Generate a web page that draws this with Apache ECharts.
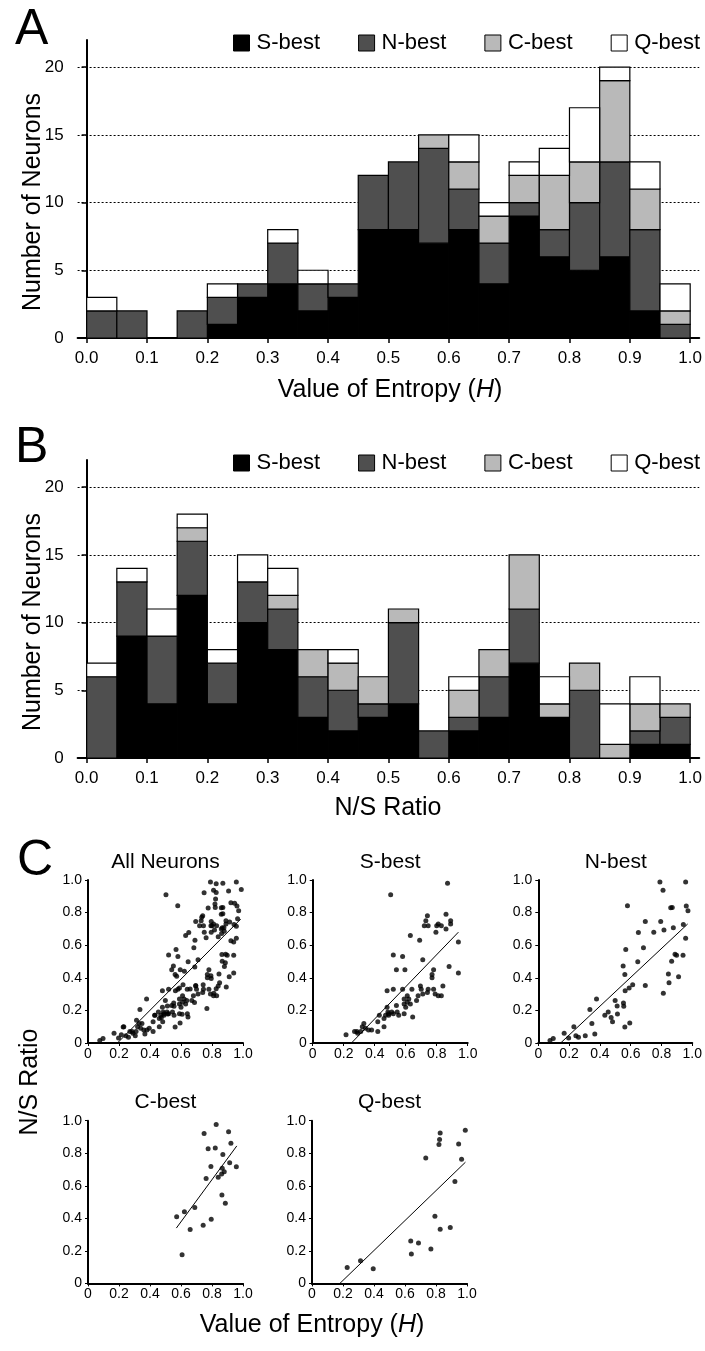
<!DOCTYPE html>
<html><head><meta charset="utf-8">
<script src="https://cdn.jsdelivr.net/npm/echarts@6/dist/echarts.min.js"></script>
<style>html,body{margin:0;padding:0;background:#fff}#c{width:705px;height:1351px}</style>
</head><body><div id="c"></div>
<script>
// ---------- DATA ----------
const binEdges = [0.00,0.05,0.10,0.15,0.20,0.25,0.30,0.35,0.40,0.45,0.50,0.55,0.60,0.65,0.70,0.75,0.80,0.85,0.90,0.95,1.00];
const groupNames = ['S-best','N-best','C-best','Q-best'];
// Panel A: entropy histogram counts per bin
const entropyS = [0,0,0,0,1,3,4,2,3,8,8,7,8,4,9,6,5,6,2,0];
const entropyN = [2,2,0,2,2,1,3,2,1,4,5,7,3,3,1,2,5,7,6,1];
const entropyC = [0,0,0,0,0,0,0,0,0,0,0,1,2,2,2,4,3,6,3,1];
const entropyQ = [1,0,0,0,1,0,1,1,0,0,0,0,2,1,1,2,4,1,2,2];
// Panel B: N/S ratio histogram counts per bin
const ratioS = [0,9,4,12,4,10,8,3,2,3,4,0,2,3,7,3,0,0,1,1];
const ratioN = [6,4,5,4,3,3,3,3,3,1,6,2,1,3,4,0,5,0,1,2];
const ratioC = [0,0,0,1,0,0,1,2,2,2,1,0,2,2,4,1,2,1,2,1];
const ratioQ = [1,1,2,1,1,2,2,0,1,0,0,0,1,0,0,2,0,3,2,0];
// tick labels
const histXTicks = [0.0,0.1,0.2,0.3,0.4,0.5,0.6,0.7,0.8,0.9,1.0];
const histYTicks = [0,5,10,15,20];
const scatterTicks = [0,0.2,0.4,0.6,0.8,1.0];
// Panel C: [entropy H, N/S ratio]
const sBestPoints = [
[0.215,0.05],[0.27,0.07],[0.285,0.07],[0.29,0.06],[0.31,0.07],[0.32,0.10],[0.33,0.12],[0.34,0.09],[0.36,0.08],[0.38,0.08],
[0.42,0.07],[0.42,0.13],[0.43,0.17],[0.46,0.10],[0.46,0.15],[0.47,0.17],[0.48,0.22],[0.485,0.19],[0.48,0.32],[0.49,0.18],[0.49,0.17],
[0.503,0.91],[0.51,0.19],[0.52,0.18],[0.52,0.33],[0.52,0.54],[0.54,0.45],[0.54,0.23],[0.545,0.19],
[0.555,0.17],[0.58,0.53],[0.58,0.33],[0.59,0.18],[0.59,0.24],[0.595,0.45],[0.59,0.27],
[0.60,0.22],[0.61,0.25],[0.61,0.29],[0.62,0.27],[0.63,0.66],[0.63,0.24],[0.64,0.33],[0.645,0.16],
[0.67,0.26],[0.68,0.29],[0.69,0.63],[0.695,0.35],
[0.70,0.33],[0.71,0.51],[0.71,0.30],[0.72,0.72],[0.73,0.75],[0.74,0.78],[0.74,0.31],[0.745,0.72],[0.745,0.33],
[0.77,0.42],[0.77,0.40],[0.78,0.45],[0.78,0.33],[0.795,0.68],[0.79,0.30],
[0.80,0.72],[0.81,0.73],[0.81,0.29],[0.83,0.29],[0.83,0.72],[0.84,0.35],
[0.86,0.79],[0.86,0.70],[0.87,0.98],[0.88,0.47],[0.89,0.75],[0.89,0.73],
[0.94,0.43],[0.94,0.62]
];
const nBestPoints = [
[0.076,0.016],[0.097,0.027],[0.168,0.06],[0.197,0.03],[0.231,0.10],[0.244,0.045],[0.261,0.035],[0.305,0.045],
[0.335,0.205],[0.348,0.12],[0.367,0.055],[0.378,0.27],[0.432,0.17],[0.454,0.19],[0.473,0.156],[0.482,0.13],
[0.499,0.26],[0.512,0.227],[0.514,0.178],[0.551,0.473],[0.553,0.246],[0.555,0.225],[0.562,0.42],[0.562,0.098],
[0.568,0.574],[0.564,0.32],[0.579,0.842],[0.59,0.338],[0.594,0.123],[0.613,0.357],[0.646,0.498],[0.65,0.678],
[0.683,0.584],[0.695,0.352],[0.695,0.746],[0.75,0.68],[0.79,0.988],[0.795,0.746],[0.81,0.937],[0.812,0.305],
[0.816,0.693],[0.845,0.424],[0.849,0.369],[0.86,0.83],[0.87,0.832],[0.866,0.502],[0.877,0.707],[0.888,0.545],
[0.898,0.539],[0.911,0.406],[0.94,0.539],[0.942,0.727],[0.957,0.988],[0.957,0.643],[0.961,0.84],[0.972,0.811]
];
const cBestPoints = [
[0.572,0.41],[0.607,0.176],[0.622,0.44],[0.659,0.332],[0.689,0.467],[0.743,0.357],[0.749,0.922],[0.762,0.645],
[0.775,0.828],[0.793,0.719],[0.795,0.395],[0.821,0.832],[0.827,0.977],[0.840,0.652],[0.862,0.672],[0.864,0.543],
[0.870,0.793],[0.866,0.707],[0.879,0.686],[0.886,0.492],[0.907,0.932],[0.914,0.742],[0.922,0.861],[0.957,0.717]
];
const qBestPoints = [
[0.227,0.098],[0.313,0.139],[0.395,0.09],[0.637,0.261],[0.641,0.18],[0.687,0.249],[0.734,0.771],[0.767,0.212],
[0.793,0.412],[0.819,0.853],[0.823,0.884],[0.827,0.924],[0.827,0.333],[0.892,0.343],[0.922,0.627],[0.946,0.857],
[0.965,0.763],[0.989,0.941]
];
const allPoints = sBestPoints.concat(nBestPoints, cBestPoints, qBestPoints);
// regression lines (endpoints)
const allFit = [[0.19,0],[0.985,0.76]];
const sFit = [[0.25,0],[0.94,0.68]];
const nFit = [[0.145,0],[0.97,0.73]];
const cFit = [[0.57,0.34],[0.96,0.845]];
const qFit = [[0.18,0],[0.99,0.745]];

// ---------- STYLE / LAYOUT ----------
const FONT = 'Liberation Sans, Arial, Helvetica, sans-serif';
const colors = {'S-best':'#000000','N-best':'#4f4f4f','C-best':'#b9b9b9','Q-best':'#ffffff'};

const chart = echarts.init(document.getElementById('c'), null, {renderer:'canvas'});

const grids = [
  {left:77.6, top:40, width:623.5, height:298},
  {left:77.6, top:460, width:623.5, height:298},
  {left:88, top:880, width:155, height:163},
  {left:312.7, top:880, width:155, height:163},
  {left:538.3, top:880, width:155, height:163},
  {left:88, top:1120.7, width:155, height:162.7},
  {left:312, top:1120.7, width:155, height:162.7}
];

const xAxes = [], yAxes = [];
for (let i = 0; i < 2; i++) {
  xAxes.push({
    gridIndex:i, type:'value', min:-0.015, max:1.015,
    axisLine:{show:true, onZero:false, lineStyle:{color:'#000', width:2}},
    axisTick:{show:true, customValues:histXTicks, length:5, lineStyle:{color:'#000', width:1.5}},
    axisLabel:{show:true, customValues:histXTicks, formatter:v=>v.toFixed(1), fontSize:17, fontFamily:FONT, color:'#000', margin:12},
    splitLine:{show:false}
  });
  yAxes.push({
    gridIndex:i, type:'value', min:0, max:22, interval:5,
    axisLine:{show:true, lineStyle:{color:'#000', width:2}},
    axisTick:{show:true, customValues:histYTicks, length:5, lineStyle:{color:'#000', width:1.5}},
    axisLabel:{show:true, customValues:histYTicks, fontSize:17, fontFamily:FONT, color:'#000', margin:14},
    splitLine:{show:true, showMinLine:false, lineStyle:{color:'#000', width:1, type:[2,2]}}
  });
}
const fmt = v => v === 0 ? '0' : v.toFixed(1);
for (let i = 2; i < 7; i++) {
  xAxes.push({
    gridIndex:i, type:'value', min:0, max:1, interval:0.2,
    axisLine:{show:true, onZero:false, lineStyle:{color:'#000', width:2}},
    axisTick:{show:true, length:3, lineStyle:{color:'#000', width:1}},
    axisLabel:{formatter:fmt, fontSize:14, fontFamily:FONT, color:'#000', margin:4, showMinLabel:true, showMaxLabel:true},
    splitLine:{show:false}
  });
  yAxes.push({
    gridIndex:i, type:'value', min:0, max:1, interval:0.2,
    axisLine:{show:true, onZero:false, lineStyle:{color:'#000', width:2}},
    axisTick:{show:true, length:3, lineStyle:{color:'#000', width:1}},
    axisLabel:{formatter:fmt, fontSize:14, fontFamily:FONT, color:'#000', margin:6},
    splitLine:{show:false}
  });
}

function histSeries(counts, axisIdx) {
  const out = [];
  const base = new Array(counts[0].length).fill(0);
  counts.forEach((arr, g) => {
    const name = groupNames[g];
    const data = [];
    arr.forEach((c, i) => {
      if (c > 0) data.push([binEdges[i], binEdges[i+1], base[i], base[i] + c]);
      base[i] += c;
    });
    out.push({
      name, type:'custom', xAxisIndex:axisIdx, yAxisIndex:axisIdx,
      itemStyle:{color:colors[name], borderColor:'#000', borderWidth:1.2},
      encode:{x:[0,1], y:[2,3]},
      silent:true,
      renderItem:(params, api) => {
        const p0 = api.coord([api.value(0), api.value(3)]);
        const p1 = api.coord([api.value(1), api.value(2)]);
        return {type:'rect', shape:{x:p0[0], y:p0[1], width:p1[0]-p0[0], height:p1[1]-p0[1]},
          style:{fill:colors[name], stroke:'#000', lineWidth:1.2}};
      },
      data
    });
  });
  return out;
}

const series = [
  ...histSeries([entropyS, entropyN, entropyC, entropyQ], 0),
  ...histSeries([ratioS, ratioN, ratioC, ratioQ], 1)
];
const scatterSets = [
  [allPoints, allFit, 'All Neurons'],
  [sBestPoints, sFit, 'S-best'],
  [nBestPoints, nFit, 'N-best'],
  [cBestPoints, cFit, 'C-best'],
  [qBestPoints, qFit, 'Q-best']
];
scatterSets.forEach((s, k) => {
  const idx = k + 2;
  series.push({name:'pts'+k, type:'scatter', xAxisIndex:idx, yAxisIndex:idx, symbol:'circle', symbolSize:5,
    itemStyle:{color:'#000'}, silent:true, data:s[0], z:3});
  series.push({name:'fit'+k, type:'line', xAxisIndex:idx, yAxisIndex:idx, symbol:'none', silent:true,
    lineStyle:{color:'#000', width:1}, data:s[1], z:2});
});

const legendBase = {
  data:groupNames, orient:'horizontal', icon:'rect', itemWidth:16, itemHeight:16, itemGap:38,
  selectedMode:false, left:233, width:470, padding:0,
  textStyle:{fontSize:22, fontFamily:FONT, color:'#000', padding:[0,0,0,2]},
  itemStyle:{borderColor:'#000', borderWidth:1}
};

const txt = (text, x, y, size, opts) => Object.assign({
  type:'text', x, y, silent:true,
  style:{text, fontSize:size, fontFamily:FONT, fill:'#000', align:'center', verticalAlign:'middle'}
}, opts || {});
const richH = size => ({i:{fontStyle:'italic', fontSize:size, fontFamily:FONT, fill:'#000'}});
const letter = (t, x, y) => ({type:'text', x, y, silent:true,
  style:{text:t, fontSize:50, fontFamily:FONT, fill:'#000', align:'left', verticalAlign:'middle'}});
const TS = 25;

const graphics = [
  letter('A', 15, 30),
  letter('B', 15, 448),
  letter('C', 17, 861),
  txt('Number of Neurons', 33, 202, TS, {rotation:Math.PI/2}),
  txt('Number of Neurons', 33, 622, TS, {rotation:Math.PI/2}),
  {type:'text', x:390, y:390, silent:true, style:{text:'Value of Entropy ({i|H})', rich:richH(TS), fontSize:TS, fontFamily:FONT, fill:'#000', align:'center', verticalAlign:'middle'}},
  txt('N/S Ratio', 388, 808, TS),
  txt('N/S Ratio', 30, 1082, TS, {rotation:Math.PI/2}),
  {type:'text', x:312, y:1325, silent:true, style:{text:'Value of Entropy ({i|H})', rich:richH(TS), fontSize:TS, fontFamily:FONT, fill:'#000', align:'center', verticalAlign:'middle'}}
];
scatterSets.forEach((s, k) => {
  const g = grids[k + 2];
  graphics.push(txt(s[2], g.left + g.width / 2, g.top - 18, 21));
});

chart.setOption({
  animation:false,
  backgroundColor:'#fff',
  grid:grids,
  xAxis:xAxes,
  yAxis:yAxes,
  legend:[Object.assign({}, legendBase, {top:32}), Object.assign({}, legendBase, {top:452})],
  graphic:graphics,
  series
});
</script>
</body></html>
